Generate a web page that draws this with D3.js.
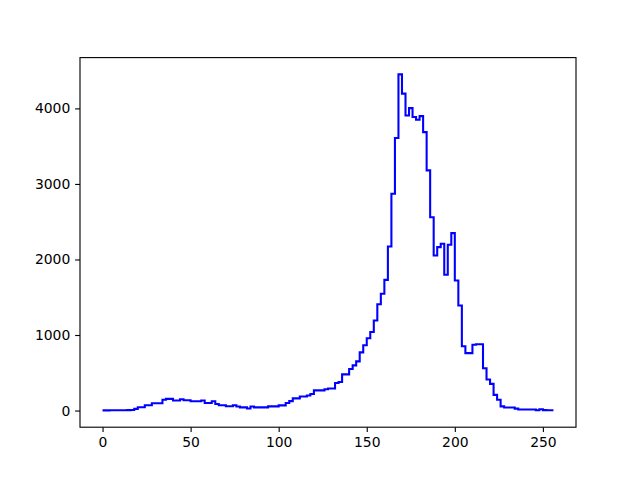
<!DOCTYPE html>
<html>
<head>
<meta charset="utf-8">
<script src="https://cdn.jsdelivr.net/npm/d3@7"></script>
<style>
  body { margin: 0; background: #fff; }
  svg { display: block; }
  text { font-family: "DejaVu Sans", sans-serif; }
</style>
</head>
<body>
<svg id="chart" width="640" height="480"></svg>
<script>
// Bin edges: 128 bins of width 2 from 0 to 256
const binStart = 0;
const binWidth = 2;
const counts = [
  2, 2, 3, 3, 4, 4, 5, 6, 8, 22,
  44, 44, 70, 70, 97, 97, 97, 142, 155, 155,
  132, 132, 150, 136, 136, 123, 123, 123, 132, 100,
  100, 123, 86, 70, 70, 57, 57, 70, 53, 42,
  42, 28, 53, 42, 42, 42, 42, 55, 55, 55,
  68, 68, 100, 125, 161, 161, 185, 185, 199, 218,
  267, 267, 267, 283, 293, 293, 365, 378, 479, 479,
  550, 598, 651, 770, 865, 958, 1040, 1192, 1408, 1546,
  1730, 2172, 2870, 3607, 4450, 4195, 3907, 4004, 3885, 3850,
  3898, 3686, 3179, 2560, 2053, 2163, 2208, 1797, 2194, 2349,
  1722, 1391, 852, 760, 760, 870, 878, 878, 561, 411,
  353, 208, 142, 55, 40, 40, 40, 26, 13, 13,
  13, 13, 13, 3, 17, 6, 5, 5
];
const xTicks = [0, 50, 100, 150, 200, 250];
const yTicks = [0, 1000, 2000, 3000, 4000];

(function () {
const W = 640, H = 480;
const mLeft = 80, mRight = 576, mTop = 57.6, mBottom = 427.2;

const pts = counts.map((c, i) => [binStart + i * binWidth, c]);
pts.push([binStart + counts.length * binWidth, counts[counts.length - 1]]);

const xMin = d3.min(pts, d => d[0]), xMax = d3.max(pts, d => d[0]);
const yMin = d3.min(counts), yMax = d3.max(counts);
const xPad = (xMax - xMin) * 0.05, yPad = (yMax - yMin) * 0.05;

const x = d3.scaleLinear().domain([xMin - xPad, xMax + xPad]).range([mLeft, mRight]);
const y = d3.scaleLinear().domain([yMin - yPad, yMax + yPad]).range([mBottom, mTop]);

const svg = d3.select("#chart");
svg.append("rect").attr("width", W).attr("height", H).attr("fill", "#fff");

const line = d3.line()
  .x(d => x(d[0]))
  .y(d => y(d[1]))
  .curve(d3.curveStepAfter);

svg.append("path")
  .datum(pts)
  .attr("d", line)
  .attr("fill", "none")
  .attr("stroke", "#0000ff")
  .attr("stroke-width", 2.08)
  .attr("stroke-linejoin", "miter")
  .attr("stroke-linecap", "butt");

const xAxis = d3.axisBottom(x).tickValues(xTicks).tickSize(4.86).tickPadding(4.86).tickFormat(d3.format("d"));
const yAxis = d3.axisLeft(y).tickValues(yTicks).tickSize(4.86).tickPadding(4.86).tickFormat(d3.format("d"));

const gx = svg.append("g").attr("transform", `translate(0,${mBottom})`).call(xAxis);
const gy = svg.append("g").attr("transform", `translate(${mLeft},0)`).call(yAxis);
[gx, gy].forEach(g => {
  g.select(".domain").remove();
  g.selectAll(".tick line").attr("stroke", "#000").attr("stroke-width", 1.11);
  g.selectAll(".tick text").attr("fill", "#000").style("font-size", "13.9px").style("font-family", "'DejaVu Sans', sans-serif");
});

svg.append("rect")
  .attr("x", mLeft).attr("y", mTop)
  .attr("width", mRight - mLeft).attr("height", mBottom - mTop)
  .attr("fill", "none").attr("stroke", "#000").attr("stroke-width", 1.11);
})();
</script>
</body>
</html>
